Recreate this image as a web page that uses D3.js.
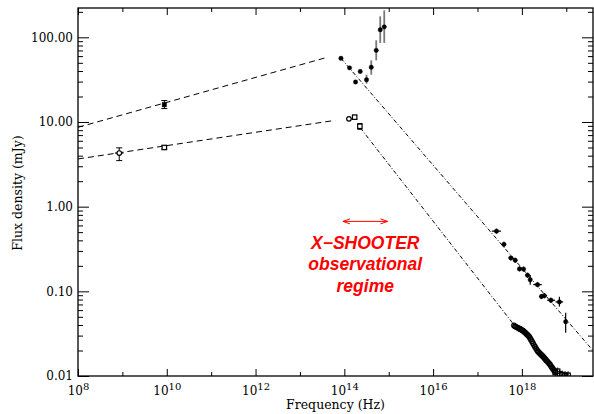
<!DOCTYPE html>
<html>
<head>
<meta charset="utf-8">
<script src="https://d3js.org/d3.v7.min.js"></script>
<style>
  html, body { margin: 0; padding: 0; background: #fff; }
  svg { display: block; }
  .axis text { font-family: "DejaVu Serif", serif; font-size: 12px; fill: #000; }
  .axis line { stroke: #000; stroke-width: 1; }
  .axis .domain { display: none; }
</style>
</head>
<body>
<div id="chart"></div>
<script>
// radio points (Hz, mJy)
var radioHiNu = [8.8e9];
var radioHiFlux = [16.0];
var radioHiLo = [14.4];
var radioHiUp = [17.9];

var radioLoNu = [8.5e8, 8.8e9];
var radioLoFlux = [4.3, 5.0];
var radioLoLo = [3.5, 4.8];
var radioLoUp = [4.95, 5.2];
var radioLoSym = ['circle', 'square'];

// optical / NIR
var optHiNu = [8.4e13, 1.31e14, 1.79e14, 2.28e14, 3.16e14, 4.04e14, 5.23e14, 6.44e14, 7.93e14];
var optHiFlux = [56.5, 43.6, 29.7, 39.6, 31.6, 44.3, 70.2, 123, 133];
var optHiLo = [56.5, 43.6, 29.7, 37.5, 28.4, 36.2, 53.5, 85.9, 85.9];
var optHiUp = [56.5, 43.6, 29.7, 41.8, 36.2, 53.5, 92.2, 177, 208];

var optLoNu = [1.27e14, 1.71e14, 2.24e14];
var optLoFlux = [10.9, 11.4, 8.9];
var optLoLo = [10.9, 10.8, 8.2];
var optLoUp = [10.9, 12.0, 9.6];
var optLoSym = ['circle', 'square', 'square'];

// X-ray, bright epoch
var xrayHiNu = [2.68e17, 3.94e17, 5.65e17, 7.07e17, 8.83e17, 1.09e18, 1.34e18, 1.54e18, 2.25e18, 2.76e18, 3.21e18, 4.52e18, 7.0e18, 9.69e18];
var xrayHiNuLo = [2.1e17, 3.5e17, 5.0e17, 6.3e17, 7.9e17, 9.8e17, 1.2e18, 1.45e18, 1.8e18, 2.5e18, 2.8e18, 3.7e18, 5.7e18, 9.3e18];
var xrayHiNuUp = [3.4e17, 4.4e17, 6.3e17, 7.9e17, 9.8e17, 1.2e18, 1.5e18, 1.65e18, 2.8e18, 3.1e18, 3.7e18, 5.6e18, 8.5e18, 1.0e19];
var xrayHiFlux = [0.514, 0.359, 0.248, 0.233, 0.184, 0.183, 0.155, 0.137, 0.120, 0.087, 0.0889, 0.0785, 0.075, 0.0438];
var xrayHiLo = [0.48, 0.335, 0.232, 0.218, 0.172, 0.171, 0.145, 0.120, 0.112, 0.081, 0.083, 0.073, 0.066, 0.0325];
var xrayHiUp = [0.55, 0.385, 0.265, 0.25, 0.197, 0.196, 0.166, 0.156, 0.128, 0.093, 0.095, 0.084, 0.0865, 0.056];

// X-ray, faint epoch (dense spectrum)
var xrayLoNu = [6.64e17, 6.99e17, 7.36e17, 7.76e17, 8.17e17, 8.60e17, 9.06e17, 9.54e17, 1.005e18, 1.059e18,
                1.115e18, 1.174e18, 1.237e18, 1.303e18, 1.372e18, 1.445e18, 1.522e18, 1.603e18, 1.688e18, 1.778e18,
                1.873e18, 1.972e18, 2.077e18, 2.188e18, 2.304e18, 2.427e18, 2.556e18, 2.692e18, 2.835e18, 2.986e18,
                3.145e18, 3.312e18, 3.488e18, 3.674e18, 3.869e18, 4.075e18, 4.292e18, 4.520e18, 4.761e18, 5.014e18,
                5.281e18, 5.562e18];
var xrayLoFlux = [0.0395, 0.0386, 0.0381, 0.0376, 0.0371, 0.0365, 0.0359, 0.0354, 0.0349, 0.0343,
                  0.0335, 0.0327, 0.0319, 0.0310, 0.0302, 0.0293, 0.0281, 0.0268, 0.0256, 0.0244,
                  0.0232, 0.0222, 0.0212, 0.0203, 0.0195, 0.0190, 0.0184, 0.0180, 0.0175, 0.0170,
                  0.0165, 0.0160, 0.0155, 0.0150, 0.0146, 0.0141, 0.0137, 0.0131, 0.0126, 0.0121,
                  0.0117, 0.0113];
var xrayBinNu = [5.62e18, 6.4e18, 7.1e18, 8.09e18, 9.44e18, 1.1e19];
var xrayBinFlux = [0.0110, 0.0114, 0.0106, 0.0104, 0.0102, 0.0102];
var xrayBinLo = [0.0088, 0.0092, 0.0085, 0.0083, 0.0082, 0.0082];
var xrayBinUp = [0.0122, 0.0126, 0.0118, 0.0116, 0.0114, 0.0114];

// model lines
var radioFitHiNu = [1e8, 3.7e13];
var radioFitHiFlux = [8.65, 57.2];
var radioFitLoNu = [1e8, 6.24e13];
var radioFitLoFlux = [3.66, 10.46];
var plawHiNu = [8.4e13, 3.83e19];
var plawHiFlux = [56.5, 0.0205];
var plawLoNu = [2.3e14, 7.06e17];
var plawLoFlux = [8.5, 0.0386];

// annotation
var xsArrowNu = [9.3e13, 9.4e14];
var xsArrowFlux = 0.67;
var xsLabelNu = 2.96e14;
var xsLabelFlux = 0.316;
var xsLabel = ['X\u2212SHOOTER', 'observational', 'regime'];

// axes
var xMajor = [1e8, 1e10, 1e12, 1e14, 1e16, 1e18];
var xMinor = [1e9, 1e11, 1e13, 1e15, 1e17, 1e19];
var yMajor = [0.01, 0.1, 1, 10, 100];
var xDomain = [1e8, 4e19];
var yDomain = [0.01, 222];

window.addEventListener('load', function () {
    'use strict';

    var W = 594, H = 414;
    var box = { left: 78, right: 593, top: 8, bottom: 376 };

    var svg = d3.select('#chart').append('svg')
        .attr('width', W)
        .attr('height', H);

    var x = d3.scaleLog().domain(xDomain).range([box.left, box.right]);
    var y = d3.scaleLog().domain(yDomain).range([box.bottom, box.top]);

    var yMinor = [];
    yMajor.forEach(function (d) {
        for (var m = 2; m <= 9; m++) {
            if (d * m <= yDomain[1]) yMinor.push(d * m);
        }
    });

    // axes, ticks point inward
    svg.append('g').attr('class', 'axis')
        .attr('transform', 'translate(0,' + box.bottom + ')')
        .call(d3.axisBottom(x).tickValues(xMajor).tickSize(-7).tickPadding(10).tickFormat(''))
        .selectAll('.tick text')
        .each(function (d) {
            var t = d3.select(this);
            t.append('tspan').text('10');
            t.append('tspan').attr('dy', '-0.5em').style('font-size', '10px')
                .text(Math.round(Math.log10(d)));
        });
    svg.append('g').attr('class', 'axis')
        .attr('transform', 'translate(0,' + box.bottom + ')')
        .call(d3.axisBottom(x).tickValues(xMinor).tickSize(-4).tickFormat(''));
    svg.append('g').attr('class', 'axis')
        .attr('transform', 'translate(0,' + box.top + ')')
        .call(d3.axisTop(x).tickValues(xMajor).tickSize(-7).tickFormat(''));
    svg.append('g').attr('class', 'axis')
        .attr('transform', 'translate(0,' + box.top + ')')
        .call(d3.axisTop(x).tickValues(xMinor).tickSize(-4).tickFormat(''));

    svg.append('g').attr('class', 'axis')
        .attr('transform', 'translate(' + box.left + ',0)')
        .call(d3.axisLeft(y).tickValues(yMajor).tickSize(-11).tickPadding(5).tickFormat(d3.format('.2f')));
    svg.append('g').attr('class', 'axis')
        .attr('transform', 'translate(' + box.left + ',0)')
        .call(d3.axisLeft(y).tickValues(yMinor).tickSize(-5).tickFormat(''));
    svg.append('g').attr('class', 'axis')
        .attr('transform', 'translate(' + box.right + ',0)')
        .call(d3.axisRight(y).tickValues(yMajor).tickSize(-11).tickFormat(''));
    svg.append('g').attr('class', 'axis')
        .attr('transform', 'translate(' + box.right + ',0)')
        .call(d3.axisRight(y).tickValues(yMinor).tickSize(-5).tickFormat(''));

    svg.append('rect')
        .attr('x', box.left).attr('y', box.top)
        .attr('width', box.right - box.left).attr('height', box.bottom - box.top)
        .attr('fill', 'none').attr('stroke', '#000').attr('stroke-width', 1.3);

    svg.append('text')
        .attr('x', (box.left + box.right) / 2).attr('y', 409)
        .attr('text-anchor', 'middle')
        .style('font-family', '"DejaVu Serif", serif').style('font-size', '12.5px')
        .text('Frequency (Hz)');
    svg.append('text')
        .attr('transform', 'translate(22,193) rotate(-90)')
        .attr('text-anchor', 'middle')
        .style('font-family', '"DejaVu Serif", serif').style('font-size', '12.5px')
        .text('Flux density (mJy)');

    svg.append('defs').append('clipPath').attr('id', 'plotclip')
        .append('rect')
        .attr('x', box.left).attr('y', box.top)
        .attr('width', box.right - box.left).attr('height', box.bottom - box.top);

    var plot = svg.append('g').attr('clip-path', 'url(#plotclip)');

    var zip = function (a, b) { return a.map(function (v, i) { return [v, b[i]]; }); };
    var line = d3.line().x(function (d) { return x(d[0]); }).y(function (d) { return y(d[1]); });

    var drawLine = function (nu, flux, dash) {
        plot.append('path')
            .datum(zip(nu, flux))
            .attr('d', line)
            .attr('fill', 'none')
            .attr('stroke', '#000')
            .attr('stroke-width', 1)
            .attr('stroke-dasharray', dash);
    };
    drawLine(radioFitHiNu, radioFitHiFlux, '6,4');
    drawLine(radioFitLoNu, radioFitLoFlux, '6,4');
    drawLine(plawHiNu, plawHiFlux, '4,2,1,2');
    drawLine(plawLoNu, plawLoFlux, '4,2,1,2');

    var vErr = function (nu, lo, up, color, width, cap) {
        nu.forEach(function (n, i) {
            if (lo[i] === up[i]) return;
            plot.append('line')
                .attr('x1', x(n)).attr('x2', x(n))
                .attr('y1', y(lo[i])).attr('y2', y(up[i]))
                .attr('stroke', color).attr('stroke-width', width);
            if (cap) {
                [lo[i], up[i]].forEach(function (v) {
                    plot.append('line')
                        .attr('x1', x(n) - cap).attr('x2', x(n) + cap)
                        .attr('y1', y(v)).attr('y2', y(v))
                        .attr('stroke', color).attr('stroke-width', 1);
                });
            }
        });
    };
    var hErr = function (nuLo, nuUp, flux) {
        flux.forEach(function (f, i) {
            plot.append('line')
                .attr('x1', x(nuLo[i])).attr('x2', x(nuUp[i]))
                .attr('y1', y(f)).attr('y2', y(f))
                .attr('stroke', '#000').attr('stroke-width', 1.2);
        });
    };
    // style: 'filled', 'open' (white inside) or 'ring' (no fill)
    var marks = function (nu, flux, sym, style) {
        nu.forEach(function (n, i) {
            var s = Array.isArray(sym) ? sym[i] : sym;
            var cx = x(n), cy = y(flux[i]);
            var el;
            if (s === 'square') {
                el = plot.append('rect').attr('x', cx - 2.2).attr('y', cy - 2.2).attr('width', 4.4).attr('height', 4.4);
            } else {
                el = plot.append('circle').attr('cx', cx).attr('cy', cy).attr('r', style === 'filled' ? 2.2 : 2.3);
            }
            el.attr('fill', style === 'filled' ? '#000' : (style === 'ring' ? 'none' : '#fff'))
                .attr('stroke', '#000')
                .attr('stroke-width', style === 'filled' ? 0.4 : 1.2);
        });
    };

    // radio
    vErr(radioHiNu, radioHiLo, radioHiUp, '#000', 1, 3);
    marks(radioHiNu, radioHiFlux, 'square', 'filled');
    vErr(radioLoNu, radioLoLo, radioLoUp, '#000', 1, 3);
    hErr([radioLoNu[0] / 1.25], [radioLoNu[0] * 1.25], [radioLoFlux[0]]);
    marks(radioLoNu, radioLoFlux, radioLoSym, 'open');

    // optical / NIR
    vErr(optHiNu, optHiLo, optHiUp, '#777', 1.8, 0);
    marks(optHiNu, optHiFlux, 'circle', 'filled');
    vErr(optLoNu, optLoLo, optLoUp, '#000', 1, 2.5);
    hErr([optLoNu[0] / 1.1], [optLoNu[0] * 1.15], [optLoFlux[0]]);
    marks(optLoNu, optLoFlux, optLoSym, 'open');

    // X-ray
    vErr(xrayHiNu, xrayHiLo, xrayHiUp, '#000', 1.2, 0);
    hErr(xrayHiNuLo, xrayHiNuUp, xrayHiFlux);
    marks(xrayHiNu, xrayHiFlux, 'circle', 'filled');
    marks(xrayLoNu, xrayLoFlux, 'circle', 'ring');
    vErr(xrayBinNu, xrayBinLo, xrayBinUp, '#000', 1, 0);
    marks(xrayBinNu, xrayBinFlux, 'square', 'ring');

    // X-shooter range
    var red = '#ff0000';
    var ay = y(xsArrowFlux), ax0 = x(xsArrowNu[0]), ax1 = x(xsArrowNu[1]);
    svg.append('line')
        .attr('x1', ax0).attr('x2', ax1).attr('y1', ay).attr('y2', ay)
        .attr('stroke', red).attr('stroke-width', 1);
    svg.append('path')
        .attr('d', 'M' + (ax0 + 7) + ',' + (ay - 2.5) + 'L' + ax0 + ',' + ay + 'L' + (ax0 + 7) + ',' + (ay + 2.5) +
                   'M' + (ax1 - 7) + ',' + (ay - 2.5) + 'L' + ax1 + ',' + ay + 'L' + (ax1 - 7) + ',' + (ay + 2.5))
        .attr('fill', 'none').attr('stroke', red).attr('stroke-width', 1);

    svg.append('g').selectAll('text')
        .data(xsLabel)
        .join('text')
        .attr('x', x(xsLabelNu))
        .attr('y', function (d, i) { return y(xsLabelFlux) + i * 21.3; })
        .attr('text-anchor', 'middle')
        .attr('fill', red)
        .style('font-family', '"Liberation Sans", Arial, sans-serif')
        .style('font-size', '17.5px')
        .style('font-weight', 'bold')
        .style('font-style', 'italic')
        .text(function (d) { return d; });
});
</script>
</body>
</html>
